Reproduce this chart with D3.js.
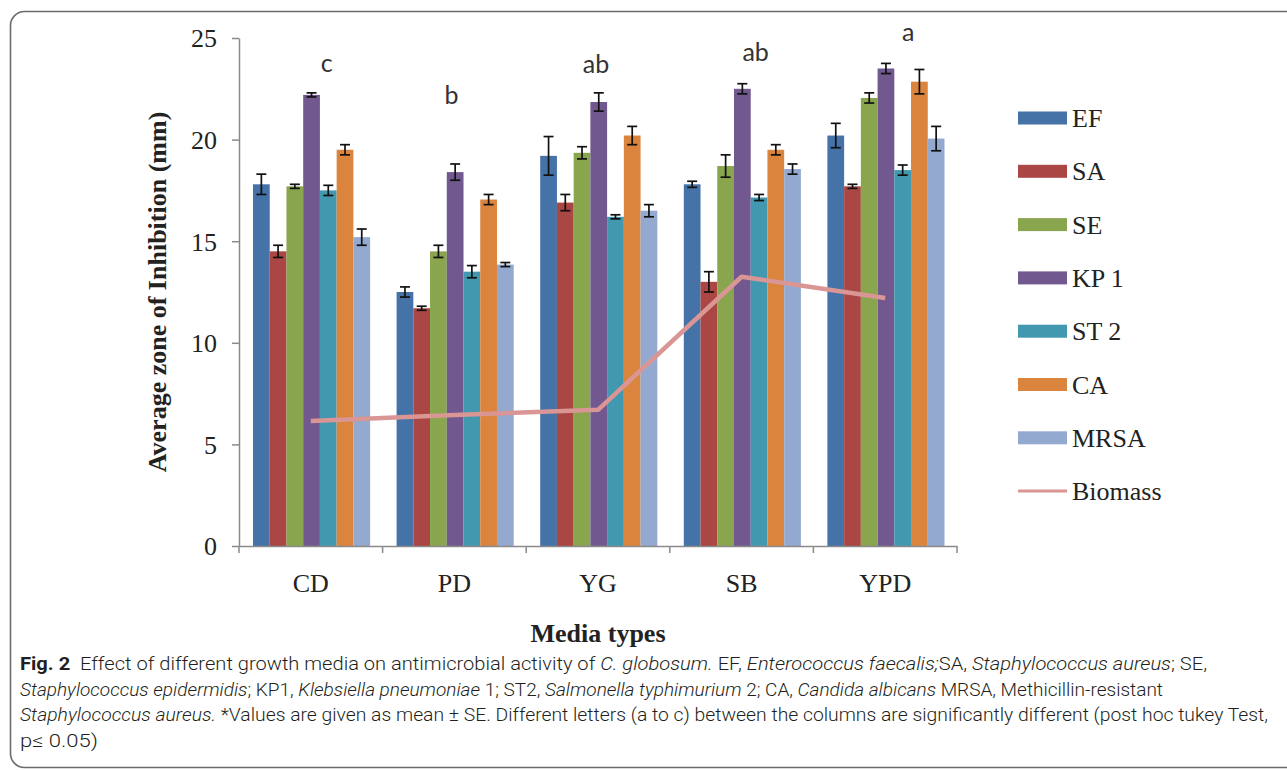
<!DOCTYPE html>
<html>
<head>
<meta charset="utf-8">
<script src="https://cdn.jsdelivr.net/npm/d3@7"></script>
<style>
  html, body { margin: 0; padding: 0; background: #fff; }
  svg { display: block; }
</style>
</head>
<body>
<svg id="chart" width="1287" height="770"></svg>
<script>
// ---------------- data ----------------
const categories = ["CD", "PD", "YG", "SB", "YPD"];
const seriesNames = ["EF", "SA", "SE", "KP 1", "ST 2", "CA", "MRSA"];
const EF   = [17.8, 12.5, 19.2, 17.8, 20.2];
const SA   = [14.5, 11.7, 16.9, 13.0, 17.7];
const SE   = [17.7, 14.5, 19.35, 18.7, 22.05];
const KP1  = [22.2, 18.4, 21.85, 22.5, 23.5];
const ST2  = [17.5, 13.5, 16.2, 17.15, 18.5];
const CA   = [19.5, 17.05, 20.2, 19.5, 22.85];
const MRSA = [15.2, 13.85, 16.5, 18.55, 20.05];
const EF_se   = [0.5, 0.25, 0.95, 0.15, 0.6];
const SA_se   = [0.3, 0.1, 0.4, 0.5, 0.1];
const SE_se   = [0.1, 0.3, 0.3, 0.55, 0.25];
const KP1_se  = [0.1, 0.4, 0.45, 0.25, 0.25];
const ST2_se  = [0.25, 0.3, 0.1, 0.15, 0.25];
const CA_se   = [0.25, 0.25, 0.45, 0.25, 0.6];
const MRSA_se = [0.4, 0.1, 0.3, 0.25, 0.6];
const biomass = [6.15, 6.45, 6.7, 13.25, 12.2];
const letters = ["c", "b", "ab", "ab", "a"];
const letterLevel = [23.35, 21.75, 23.3, 23.85, 24.85];
const yTicks = [0, 5, 10, 15, 20, 25];

const seriesValues = [EF, SA, SE, KP1, ST2, CA, MRSA];
const seriesErrors = [EF_se, SA_se, SE_se, KP1_se, ST2_se, CA_se, MRSA_se];
const colors = ["#4572A7", "#AA4643", "#89A54E", "#71588F", "#4198AF", "#DB843D", "#93A9CF"];
const lineColor = "#D99694";

// ---------------- layout ----------------
const svg = d3.select("#chart");
const pLeft = 239, pRight = 957, pTop = 38, pBottom = 546;

// frame
svg.append("rect")
  .attr("x", 10.5).attr("y", 11.5)
  .attr("width", 1320).attr("height", 756)
  .attr("rx", 14).attr("ry", 14)
  .attr("fill", "none").attr("stroke", "#6b6b6b").attr("stroke-width", 1.6);

const x = d3.scaleBand().domain(categories).range([pLeft, pRight]).paddingInner(0).paddingOuter(0);
const bw = x.bandwidth();
const x1 = d3.scaleBand().domain(seriesNames).range([14, bw - 12.5]).padding(0);
const y = d3.scaleLinear().domain([0, 25]).range([pBottom, pTop]);

const serif = "'Liberation Serif', 'Times New Roman', serif";

// y axis
const yAxis = svg.append("g")
  .attr("transform", `translate(${pLeft},0)`)
  .call(d3.axisLeft(y).tickValues(yTicks).tickSize(7).tickSizeOuter(0).tickPadding(15));
yAxis.select(".domain").attr("stroke", "#8a8a8a").attr("stroke-width", 1.5);
yAxis.selectAll(".tick line").attr("stroke", "#8a8a8a").attr("stroke-width", 1.5);
yAxis.selectAll(".tick text")
  .attr("font-family", serif).attr("font-size", 26).attr("fill", "#222")
  .attr("dy", "0.34em");

// bars
const groups = svg.append("g").selectAll("g")
  .data(categories)
  .join("g")
  .attr("transform", d => `translate(${x(d)},0)`);

groups.each(function(cat, ci) {
  const g = d3.select(this);
  seriesNames.forEach((s, si) => {
    const v = seriesValues[si][ci];
    const e = seriesErrors[si][ci];
    const bx = x1(s);
    g.append("rect")
      .attr("x", bx).attr("y", y(v))
      .attr("width", x1.bandwidth()).attr("height", y(0) - y(v))
      .attr("fill", colors[si]);
    const cx = bx + x1.bandwidth() / 2;
    const eb = g.append("g").attr("stroke", "#111").attr("stroke-width", 1.7);
    eb.append("line").attr("x1", cx).attr("x2", cx).attr("y1", y(v - e)).attr("y2", y(v + e));
    eb.append("line").attr("x1", cx - 5).attr("x2", cx + 5).attr("y1", y(v - e)).attr("y2", y(v - e));
    eb.append("line").attr("x1", cx - 5).attr("x2", cx + 5).attr("y1", y(v + e)).attr("y2", y(v + e));
  });
});

// x axis
const xAxis = svg.append("g")
  .attr("transform", `translate(0,${pBottom})`)
  .call(d3.axisBottom(x).tickSize(0).tickPadding(28));
xAxis.select(".domain").attr("stroke", "#8a8a8a").attr("stroke-width", 1.5);
xAxis.selectAll(".tick text")
  .attr("font-family", serif).attr("font-size", 26).attr("fill", "#222");
// boundary ticks
svg.append("g").selectAll("line")
  .data(d3.range(categories.length + 1))
  .join("line")
  .attr("x1", i => pLeft + i * bw).attr("x2", i => pLeft + i * bw)
  .attr("y1", pBottom).attr("y2", pBottom + 7)
  .attr("stroke", "#8a8a8a").attr("stroke-width", 1.5);

// biomass line
const line = d3.line()
  .x((d, i) => x(categories[i]) + bw / 2)
  .y(d => y(d));
svg.append("path")
  .datum(biomass)
  .attr("d", line)
  .attr("fill", "none").attr("stroke", lineColor).attr("stroke-width", 4.5)
  .attr("stroke-linejoin", "round");

// significance letters
const letterDx = [16, -3, -2, 14, 23];
svg.append("g").selectAll("text")
  .data(letters)
  .join("text")
  .attr("x", (d, i) => x(categories[i]) + bw / 2 + letterDx[i])
  .attr("y", (d, i) => y(letterLevel[i]))
  .attr("text-anchor", "middle")
  .attr("font-family", "Lato, 'Open Sans', sans-serif")
  .attr("font-size", 25).attr("fill", "#333")
  .text(d => d);

// axis titles
svg.append("text")
  .attr("transform", "translate(166,292) rotate(-90)")
  .attr("text-anchor", "middle")
  .attr("font-family", serif).attr("font-weight", "bold").attr("font-size", 26).attr("fill", "#222")
  .text("Average zone of Inhibition (mm)");
svg.append("text")
  .attr("x", (pLeft + pRight) / 2).attr("y", 642)
  .attr("text-anchor", "middle")
  .attr("font-family", serif).attr("font-weight", "bold").attr("font-size", 26).attr("fill", "#222")
  .text("Media types");

// legend
const legendItems = seriesNames.concat(["Biomass"]);
const lg = svg.append("g").selectAll("g")
  .data(legendItems)
  .join("g")
  .attr("transform", (d, i) => `translate(1018,${118 + i * 53.3})`);
lg.each(function(d, i) {
  const g = d3.select(this);
  if (i < seriesNames.length) {
    g.append("rect").attr("x", 0).attr("y", -6.5).attr("width", 49).attr("height", 13).attr("fill", colors[i]);
  } else {
    g.append("line").attr("x1", 0).attr("x2", 49).attr("y1", 0).attr("y2", 0)
      .attr("stroke", lineColor).attr("stroke-width", 3);
  }
  g.append("text").attr("x", 54).attr("y", 9)
    .attr("font-family", serif).attr("font-size", 26).attr("fill", "#222")
    .text(d);
});

// caption
const capFont = "Roboto, 'Liberation Sans Narrow', sans-serif";
const captionLines = [
  { w: 1187, parts: [["Fig. 2", "b"], ["\u00a0\u00a0Effect of different growth media on antimicrobial activity of ", ""], ["C. globosum.", "i"], [" EF, ", ""], ["Enterococcus faecalis;", "i"], ["SA, ", ""], ["Staphylococcus aureus", "i"], ["; SE,", ""]] },
  { w: 1143, parts: [["Staphylococcus epidermidis", "i"], ["; KP1, ", ""], ["Klebsiella pneumoniae", "i"], [" 1; ST2, ", ""], ["Salmonella typhimurium", "i"], [" 2; CA, ", ""], ["Candida albicans", "i"], [" MRSA, Methicillin-resistant", ""]] },
  { w: 1248, parts: [["Staphylococcus aureus.", "i"], [" *Values are given as mean\u00a0\u00b1\u00a0SE. Different letters (a to c) between the columns are significantly different (post hoc tukey Test,", ""]] },
  { w: 78, parts: [["p\u2264\u00a00.05)", ""]] }
];
captionLines.forEach((ln, li) => {
  const t = svg.append("text")
    .attr("x", 20).attr("y", 670 + li * 25.7)
    .attr("font-family", capFont).attr("font-size", 18).attr("font-weight", 300).attr("fill", "#231f20")
    .attr("textLength", ln.w).attr("lengthAdjust", "spacingAndGlyphs");
  ln.parts.forEach(p => {
    const ts = t.append("tspan").text(p[0]);
    if (p[1] === "b") ts.attr("font-weight", "bold");
    if (p[1] === "i") ts.attr("font-style", "italic");
  });
});
</script>
</body>
</html>
